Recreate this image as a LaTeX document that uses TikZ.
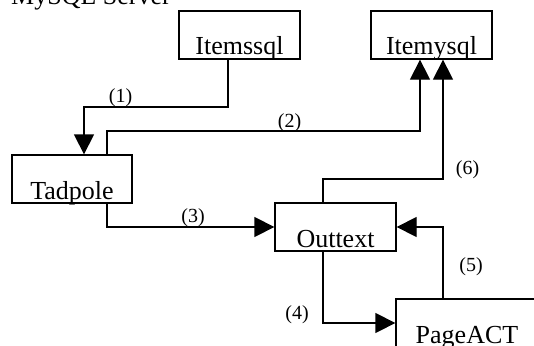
\documentclass[tikz,border=0pt]{standalone}
\usepackage{fontspec}
\setmainfont{Liberation Serif}
\usetikzlibrary{arrows.meta}
\begin{document}
\begin{tikzpicture}[x=1pt,y=-1pt,
  box/.style={draw, line width=1.3pt, minimum width=121pt, minimum height=48pt,
    inner xsep=0pt, inner ysep=4pt, text height=40pt, text depth=0pt,
    font=\fontsize{26}{30}\selectfont},
  arr/.style={line width=1.3pt, -{Triangle[length=20pt,width=20pt]}},
  lbl/.style={inner sep=0pt, font=\fontsize{20}{24}\selectfont}]
\useasboundingbox (0,0) rectangle (534,345);
\clip (0,0) rectangle (534,345);
\node[anchor=base west, inner sep=0pt, font=\fontsize{26}{30}\selectfont] (title) at (11,5) {MySQL Server};
\node[box] (itm) at (239.5,35) {Itemssql};
\node[box] (imy) at (431.5,35) {Itemysql};
\node[box, minimum width=120pt] (tad) at (72,179) {Tadpole};
\node[box] (out) at (335.5,227) {Outtext};
\node[box, minimum width=142pt] (pag) at (467,323) {PageACT};
% (1)
\draw[arr] (228,0 |- itm.south) |- (84,107) -- (84,0 |- tad.north);
\node[lbl] (l1) at (120.5,98) {(1)};
% (2)
\draw[arr] (107,0 |- tad.north) |- (420,131) -- (420,0 |- imy.south);
\node[lbl] (l2) at (289.5,122.5) {(2)};
% (3)
\draw[arr] (107,0 |- tad.south) |- (out.west);
\node[lbl] (l3) at (193,218) {(3)};
% (6)
\draw[arr] (323,0 |- out.north) |- (443,179) -- (443,0 |- imy.south);
\node[lbl] (l6) at (467.5,170) {(6)};
% (4)
\draw[arr] (323,0 |- out.south) |- (pag.west);
\node[lbl] (l4) at (297,315) {(4)};
% (5)
\draw[arr] (443,0 |- pag.north) |- (out.east);
\node[lbl] (l5) at (471,266.5) {(5)};
\end{tikzpicture}
\end{document}
